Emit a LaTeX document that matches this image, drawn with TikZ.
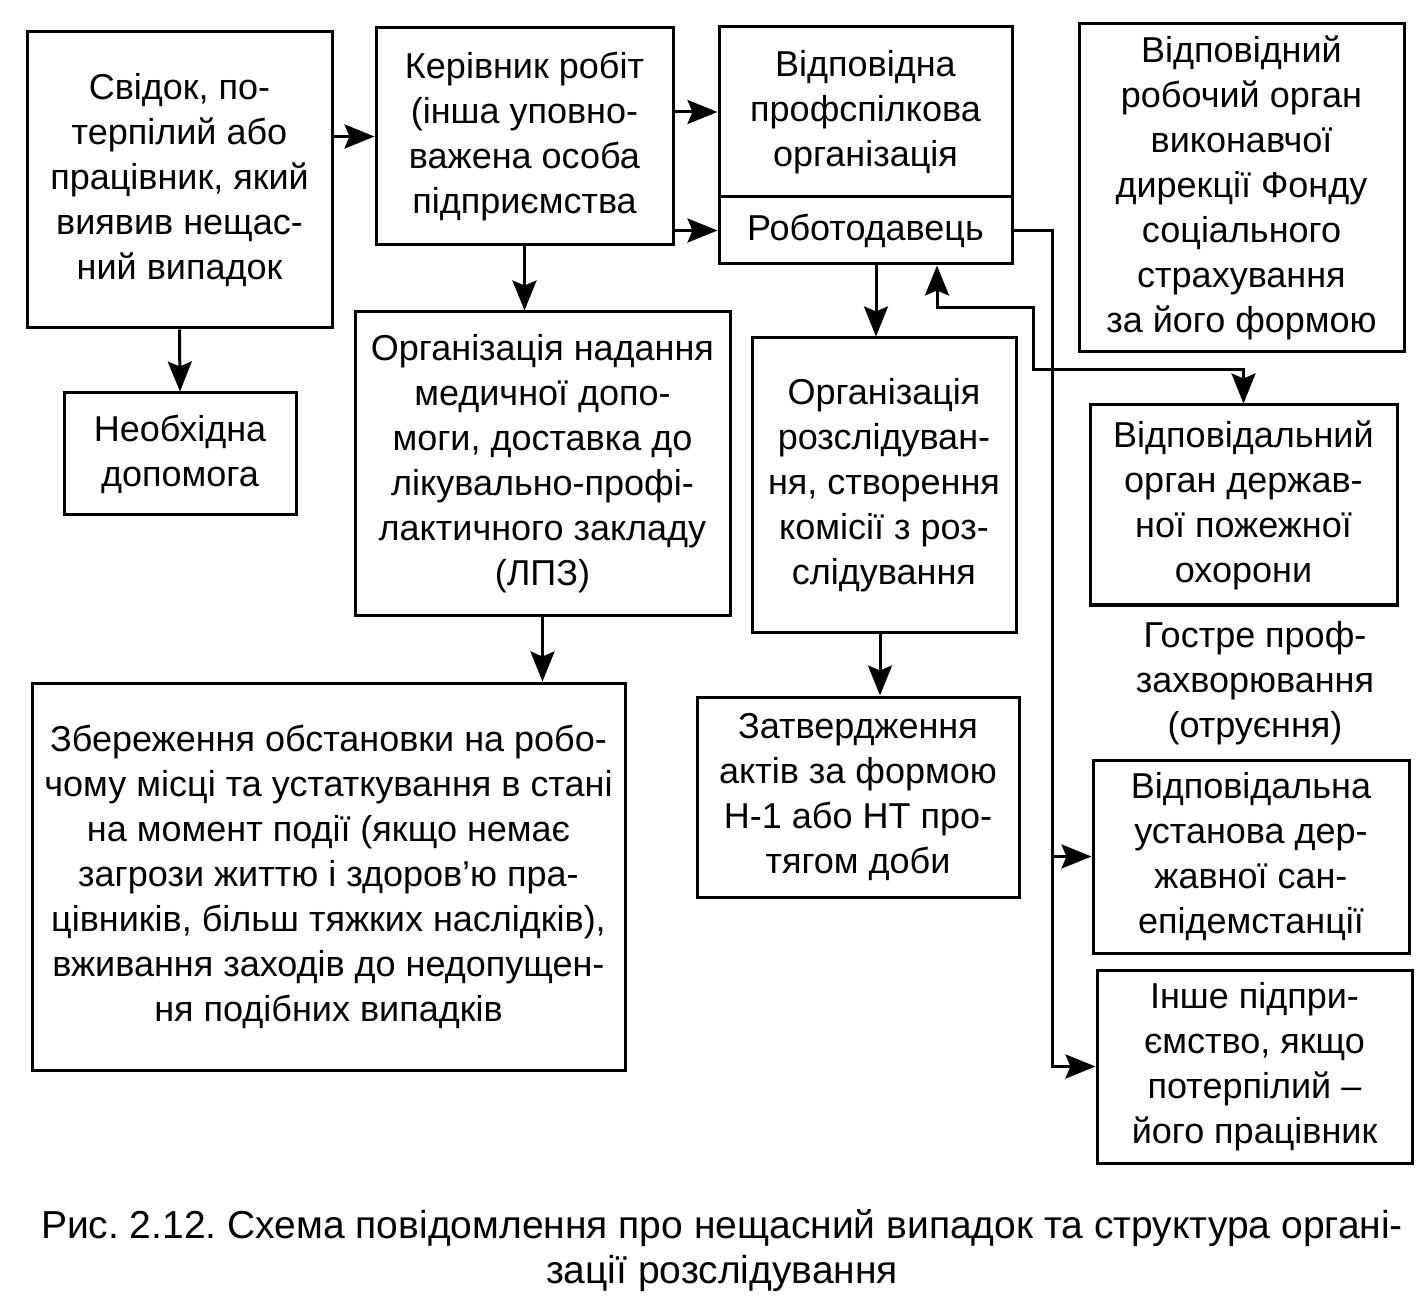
\documentclass[tikz,border=0pt]{standalone}
\usepackage{fontspec}
\setmainfont{Liberation Sans}
\usetikzlibrary{arrows.meta}
\frenchspacing

\begin{document}
\begin{tikzpicture}[x=0.5pt,y=-0.5pt,line width=1.5pt,
    box/.style={draw,align=center,inner sep=0pt,font=\fontsize{18}{22.5}\selectfont},
    lbl/.style={align=center,inner sep=0pt,font=\fontsize{18}{22.5}\selectfont},
    >={Stealth[length=15pt,width=12pt,inset=2.5pt]}]
\useasboundingbox (0,0) rectangle (1421,1305);
\path
    ( 179.5, 180  ) node [box,minimum width=152.5pt,minimum height=148pt]   (svidok)
        {Свідок, по-\\терпілий або\\працівник, який\\виявив нещас-\\ний випадок}
    ( 180  , 454  ) node [box,minimum width=116pt,minimum height=61pt]      (dopomoga)
        {Необхідна\\допомога}
    ( 524.5, 136.5) node [box,minimum width=148.5pt,minimum height=108.5pt] (kerivnyk)
        {Керівник робіт\\(інша уповно-\\важена особа\\підприємства}
    ( 865.5, 112  ) node [box,minimum width=146.5pt,minimum height=85pt]    (profspilka)
        {Відповідна\\профспілкова\\організація}
    ( 865.5, 230.5) node [box,minimum width=146.5pt,minimum height=33.5pt]  (robotodavec)
        {Роботодавець}
    (1241.5, 188  ) node [box,minimum width=162.5pt,minimum height=164pt]   (fond)
        {Відповідний\\робочий орган\\виконавчої\\дирекції Фонду\\соціального\\страхування\\за його формою}
    ( 542.5, 463.5) node [box,minimum width=187.5pt,minimum height=151.5pt] (medyk)
        {Організація надання\\медичної допо-\\моги, доставка до\\лікувально-профі-\\лактичного закладу\\(ЛПЗ)}
    ( 884  , 485  ) node [box,minimum width=132pt,minimum height=147pt]     (rozsl)
        {Організація\\розслідуван-\\ня, створення\\комісії з роз-\\слідування}
    (1243.5, 505  ) node [box,minimum width=153.5pt,minimum height=100pt]   (pozhezh)
        {Відповідальний\\орган держав-\\ної пожежної\\охорони}
    (1255  , 683  ) node [lbl]                                              (gostre)
        {Гостре проф-\\захворювання\\(отруєння)}
    (1251  , 856.5) node [box,minimum width=158pt,minimum height=96.5pt]    (san)
        {Відповідальна\\установа дер-\\жавної сан-\\епідемстанції}
    (1254.5,1066.5) node [box,minimum width=157.5pt,minimum height=96.5pt]  (inshe)
        {Інше підпри-\\ємство, якщо\\потерпілий –\\його працівник}
    ( 328.5, 876.5) node [box,minimum width=296.5pt,minimum height=193.5pt] (zberezh)
        {Збереження обстановки на робо-\\чому місці та устаткування в стані\\на момент події (якщо немає\\загрози життю і здоров’ю пра-\\цівників, більш тяжких наслідків),\\вживання заходів до недопущен-\\ня подібних випадків}
    ( 722  ,1250.5) node [lbl,font=\fontsize{19.5}{22.5}\selectfont]        (caption)
        {Рис. 2.12. Схема повідомлення про нещасний випадок та структура органі-\\зації розслідування}
    ( 858  , 797  ) node [box,minimum width=161pt,minimum height=100pt]     (zatv)
        {Затвердження\\актів за формою\\Н-1 або НТ про-\\тягом доби};
\coordinate (bus) at (1052,230.5);
\coordinate (k1)  at (1033,308);
\coordinate (k2)  at (1033,370);
\draw[->] (svidok.east |- kerivnyk.west)     -- (kerivnyk.west);
\draw[->] (svidok.south)                     -- (dopomoga.north);
\draw[->] (kerivnyk.east |- profspilka.west) -- (profspilka.west);
\draw[->] (kerivnyk.east |- robotodavec.west) -- (robotodavec.west);
\draw[->] (kerivnyk.south)                   -- (kerivnyk.south |- medyk.north);
\draw[->] ([xshift=5.25pt]robotodavec.south) -- ([xshift=5.25pt]robotodavec.south |- rozsl.north);
\draw[->] ([xshift=-2pt]rozsl.south)         -- ([xshift=-2pt]rozsl.south |- zatv.north);
\draw[->] (medyk.south)                      -- (medyk.south |- zberezh.north);
\draw[->] (robotodavec.east) -- (bus) |- (inshe.west);
\draw[->] (bus |- san.west)  -- (san.west);
\draw[<->] ([xshift=35.75pt]robotodavec.south) |- (k1) -- (k2) -| (pozhezh.north);
\end{tikzpicture}
\end{document}
